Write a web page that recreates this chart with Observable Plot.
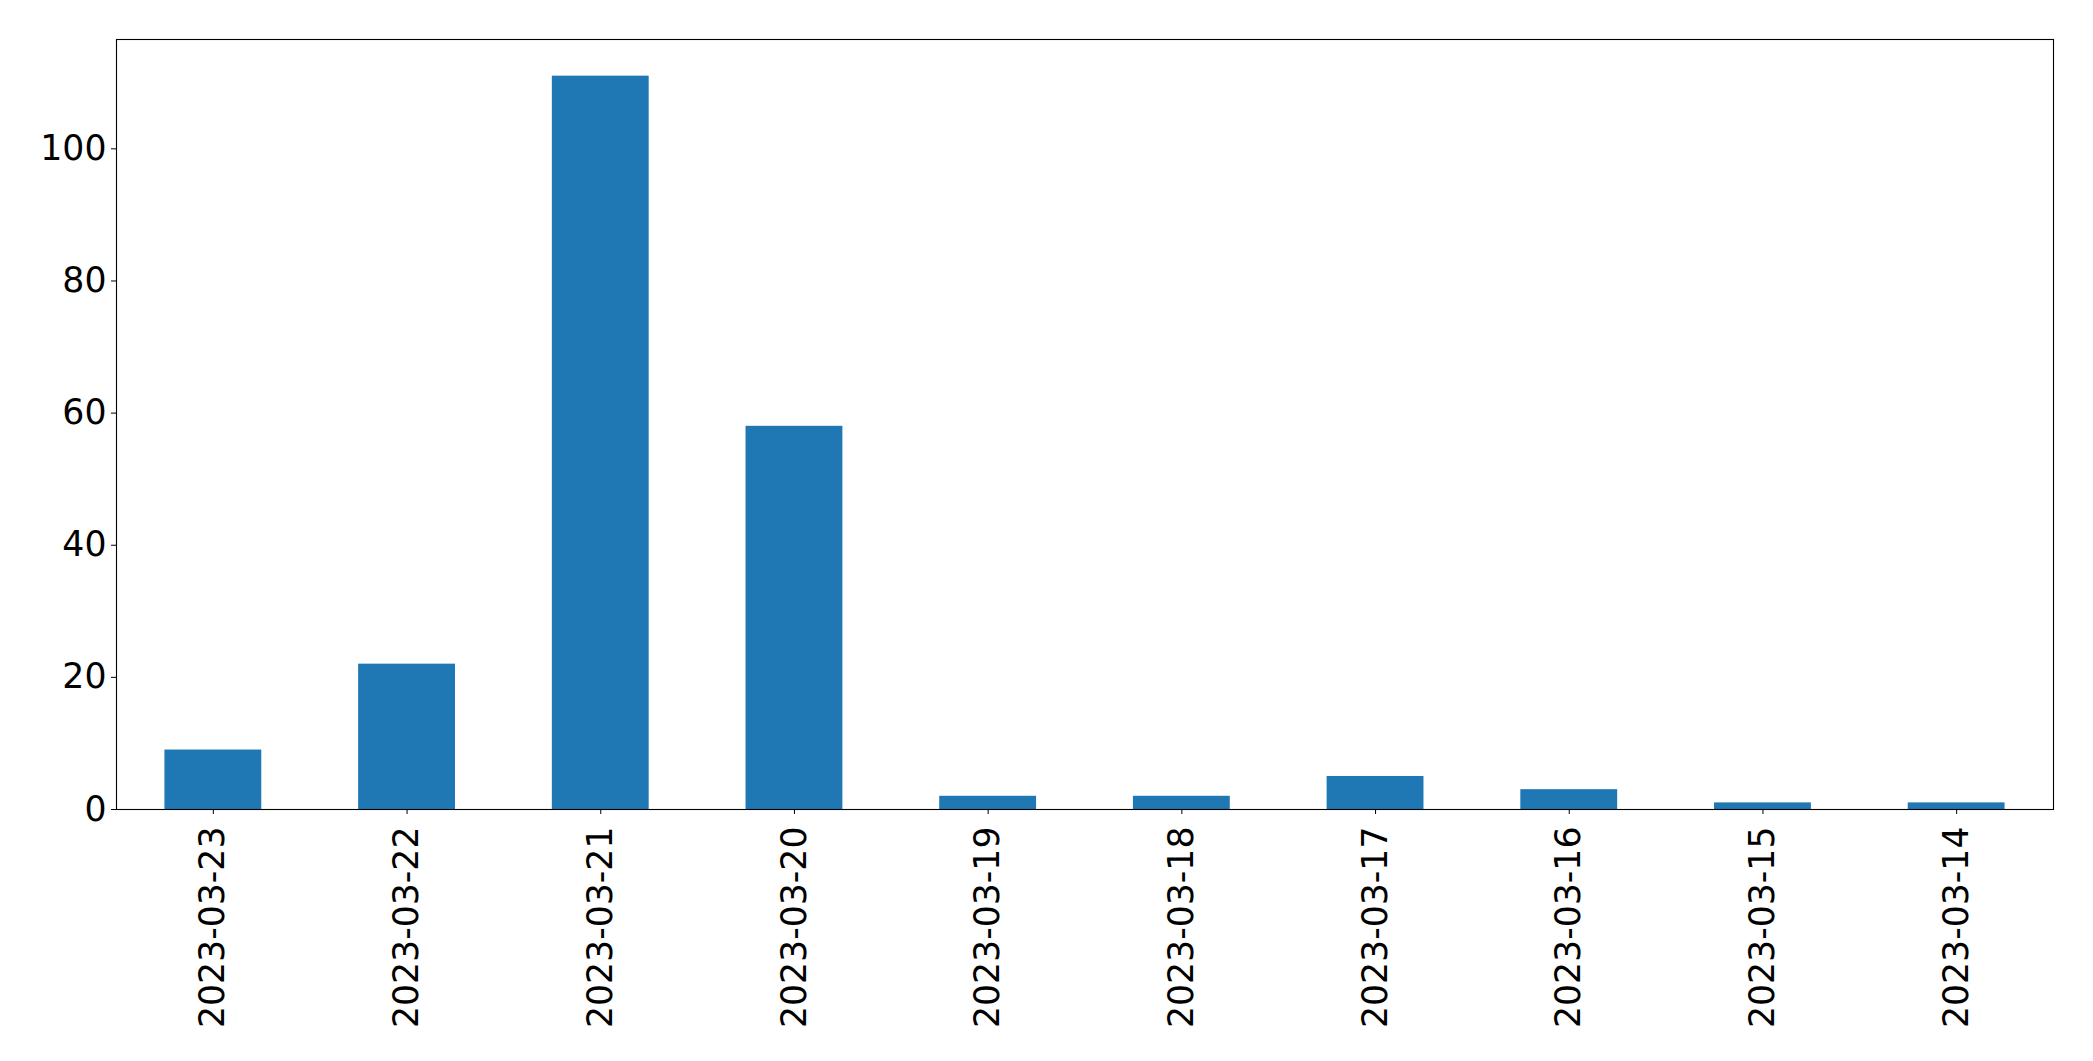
<!DOCTYPE html>
<html>
<head>
<meta charset="utf-8">
<script src="https://cdn.jsdelivr.net/npm/d3@7"></script>
<script src="https://cdn.jsdelivr.net/npm/@observablehq/plot@0.6"></script>
<style>
  html, body { margin: 0; padding: 0; background: #fff; }
  svg { display: block; }
</style>
</head>
<body>
<div id="chart"></div>
<script>
const dates = ["2023-03-23", "2023-03-22", "2023-03-21", "2023-03-20", "2023-03-19",
               "2023-03-18", "2023-03-17", "2023-03-16", "2023-03-15", "2023-03-14"];
const counts = [9, 22, 111, 58, 2, 2, 5, 3, 1, 1];
const yTicks = [0, 20, 40, 60, 80, 100];

const data = dates.map((d, i) => ({date: d, count: counts[i]}));

const chart = Plot.plot({
  width: 2093,
  height: 1061,
  marginLeft: 116,
  marginRight: 40,
  marginTop: 39,
  marginBottom: 252,
  style: {fontFamily: "DejaVu Sans", fontSize: "34.7px", color: "#000", background: "#fff"},
  x: {type: "band", domain: dates, paddingInner: 0.5, paddingOuter: 0.25, round: false, label: null},
  y: {domain: [0, 116.55], label: null},
  marks: [
    Plot.barY(data, {x: "date", y: "count", fill: "#1f77b4"}),
    Plot.axisX({tickRotate: -90, tickSize: 5, tickPadding: 12, fontSize: 34.7, stroke: "#000", label: null}),
    Plot.axisY({ticks: yTicks, tickSize: 5, tickPadding: 5, fontSize: 34.7, stroke: "#000", label: null}),
    Plot.frame({stroke: "#000", strokeWidth: 1.1})
  ]
});
document.getElementById("chart").appendChild(chart);
</script>
</body>
</html>
